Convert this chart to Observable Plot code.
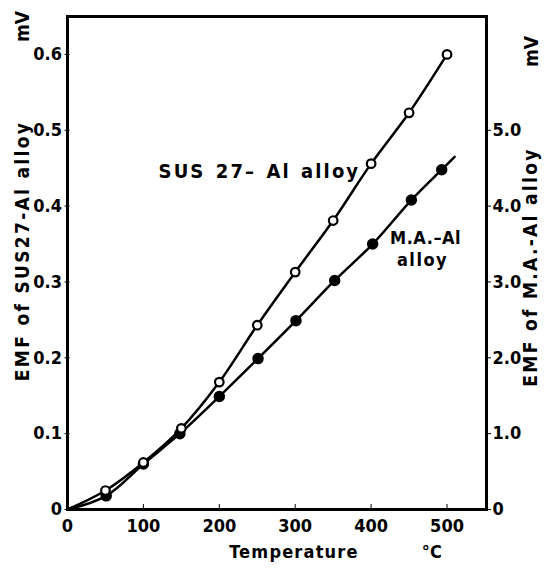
<!DOCTYPE html>
<html>
<head>
<meta charset="utf-8">
<script src="https://cdn.jsdelivr.net/npm/d3@7"></script>
<script src="https://cdn.jsdelivr.net/npm/@observablehq/plot@0.6"></script>
<style>
  html, body { margin: 0; padding: 0; background: #fff; }
  #chart svg { display: block; }
</style>
</head>
<body>
<div id="chart"></div>
<script>
// Temperatures (°C) and EMF readings
const susTemps = [50, 100, 150, 200, 250, 300, 350, 400, 450, 500];
const susEmf   = [0.025, 0.062, 0.107, 0.168, 0.243, 0.313, 0.381, 0.456, 0.523, 0.600]; // mV (left axis)
const maTemps  = [51, 100, 148, 200, 251, 301, 352, 402, 453, 493];
const maEmf    = [0.018, 0.060, 0.100, 0.149, 0.199, 0.249, 0.302, 0.350, 0.408, 0.448]; // left-axis units (×10 mV on right)
const maLineEnd = {t: 510, v: 0.465};

const xTicks = [0, 100, 200, 300, 400, 500];
const leftTicks = [0, 0.1, 0.2, 0.3, 0.4, 0.5, 0.6];
const rightTicks = [0, 0.1, 0.2, 0.3, 0.4, 0.5];
const rightTickLabels = ["0", "1.0", "2.0", "3.0", "4.0", "5.0"];

const sus = susTemps.map((t, i) => ({t, v: susEmf[i]}));
const ma = maTemps.map((t, i) => ({t, v: maEmf[i]}));
const susLine = [{t: 0, v: 0}, ...sus];
const maLine = [{t: 0, v: 0}, ...ma, maLineEnd];

const FONT = "'DejaVu Sans Condensed', 'DejaVu Sans', sans-serif";
const titleOpts = {textAnchor: "middle", lineAnchor: "middle", rotate: -90, fontSize: 19, fontFamily: FONT};

const chart = Plot.plot({
  width: 547,
  height: 569,
  marginLeft: 67,
  marginRight: 61,
  marginTop: 16,
  marginBottom: 60,
  style: {fontFamily: FONT, fontWeight: "bold", fontSize: "17px", color: "#000", background: "#fff"},
  x: {domain: [0, 552]},
  y: {domain: [0, 0.65]},
  marks: [
    Plot.line(susLine, {x: "t", y: "v", curve: "catmull-rom", stroke: "#000", strokeWidth: 2.5}),
    Plot.line(maLine, {x: "t", y: "v", curve: "catmull-rom", stroke: "#000", strokeWidth: 2.5}),
    Plot.dot(ma, {x: "t", y: "v", r: 5, fill: "#000", stroke: "#000"}),
    Plot.dot(sus, {x: "t", y: "v", r: 4.3, fill: "#fff", stroke: "#000", strokeWidth: 2.2}),
    Plot.frame({stroke: "#000", strokeWidth: 3}),
    // left axis
    Plot.axisY({ticks: leftTicks, tickSize: 5, tickPadding: 3, dx: 2.5, label: null,
      tickFormat: d => d === 0 ? "0" : d.toFixed(1), fontSize: 18}),
    // right axis
    Plot.axisY({anchor: "right", ticks: rightTicks, tickSize: 4, tickPadding: 2, label: null,
      tickFormat: (d, i) => rightTickLabels[i], fontSize: 18}),
    // bottom axis labels
    Plot.axisX({ticks: xTicks, tickSize: 0, tickPadding: 10, label: null,
      tickFormat: d => String(d), fontSize: 18}),
    // inward bottom ticks
    Plot.axisX({ticks: xTicks, tickSize: 5, dy: -5, label: null, tickFormat: () => ""}),
    // curve labels
    Plot.text(["SUS 27– Al alloy"], {x: 120, y: 0.445, textAnchor: "start", lineAnchor: "middle", fontSize: 20, fontFamily: FONT}),
    Plot.text(["M.A.–Al"], {x: 425, y: 0.358, textAnchor: "start", lineAnchor: "middle", fontSize: 18, fontFamily: FONT}),
    Plot.text(["alloy"], {x: 434, y: 0.328, textAnchor: "start", lineAnchor: "middle", fontSize: 18, fontFamily: FONT}),
    // axis titles
    Plot.text(["EMF of SUS27-Al alloy"], {...titleOpts, frameAnchor: "left", dx: -45, dy: -12}),
    Plot.text(["mV"], {...titleOpts, frameAnchor: "top-left", dx: -45, dy: 10}),
    Plot.text(["EMF of M.A.-Al alloy"], {...titleOpts, frameAnchor: "right", dx: 44, dy: 4}),
    Plot.text(["mV"], {...titleOpts, frameAnchor: "top-right", dx: 45, dy: 35}),
    Plot.text(["Temperature"], {frameAnchor: "bottom", lineAnchor: "middle", textAnchor: "middle", dx: 17, dy: 43, fontSize: 18, fontFamily: FONT}),
    Plot.text(["°C"], {x: 480, frameAnchor: "bottom", lineAnchor: "middle", textAnchor: "middle", dy: 43, fontSize: 18, fontFamily: FONT})
  ]
});
// letter spacing tweaks (typographic only)
const spacing = {
  "SUS 27– Al alloy": ["2.1px", "2px"],
  "M.A.–Al": ["0.5px", null],
  "alloy": ["1.5px", null],
  "EMF of SUS27-Al alloy": ["2.3px", null],
  "EMF of M.A.-Al alloy": ["2.3px", null],
  "Temperature": ["1.2px", null]
};
d3.select(chart).selectAll("text").each(function() {
  const s = spacing[this.textContent];
  if (s) d3.select(this).attr("letter-spacing", s[0]).attr("word-spacing", s[1]);
});
document.getElementById("chart").append(chart);
</script>
</body>
</html>
